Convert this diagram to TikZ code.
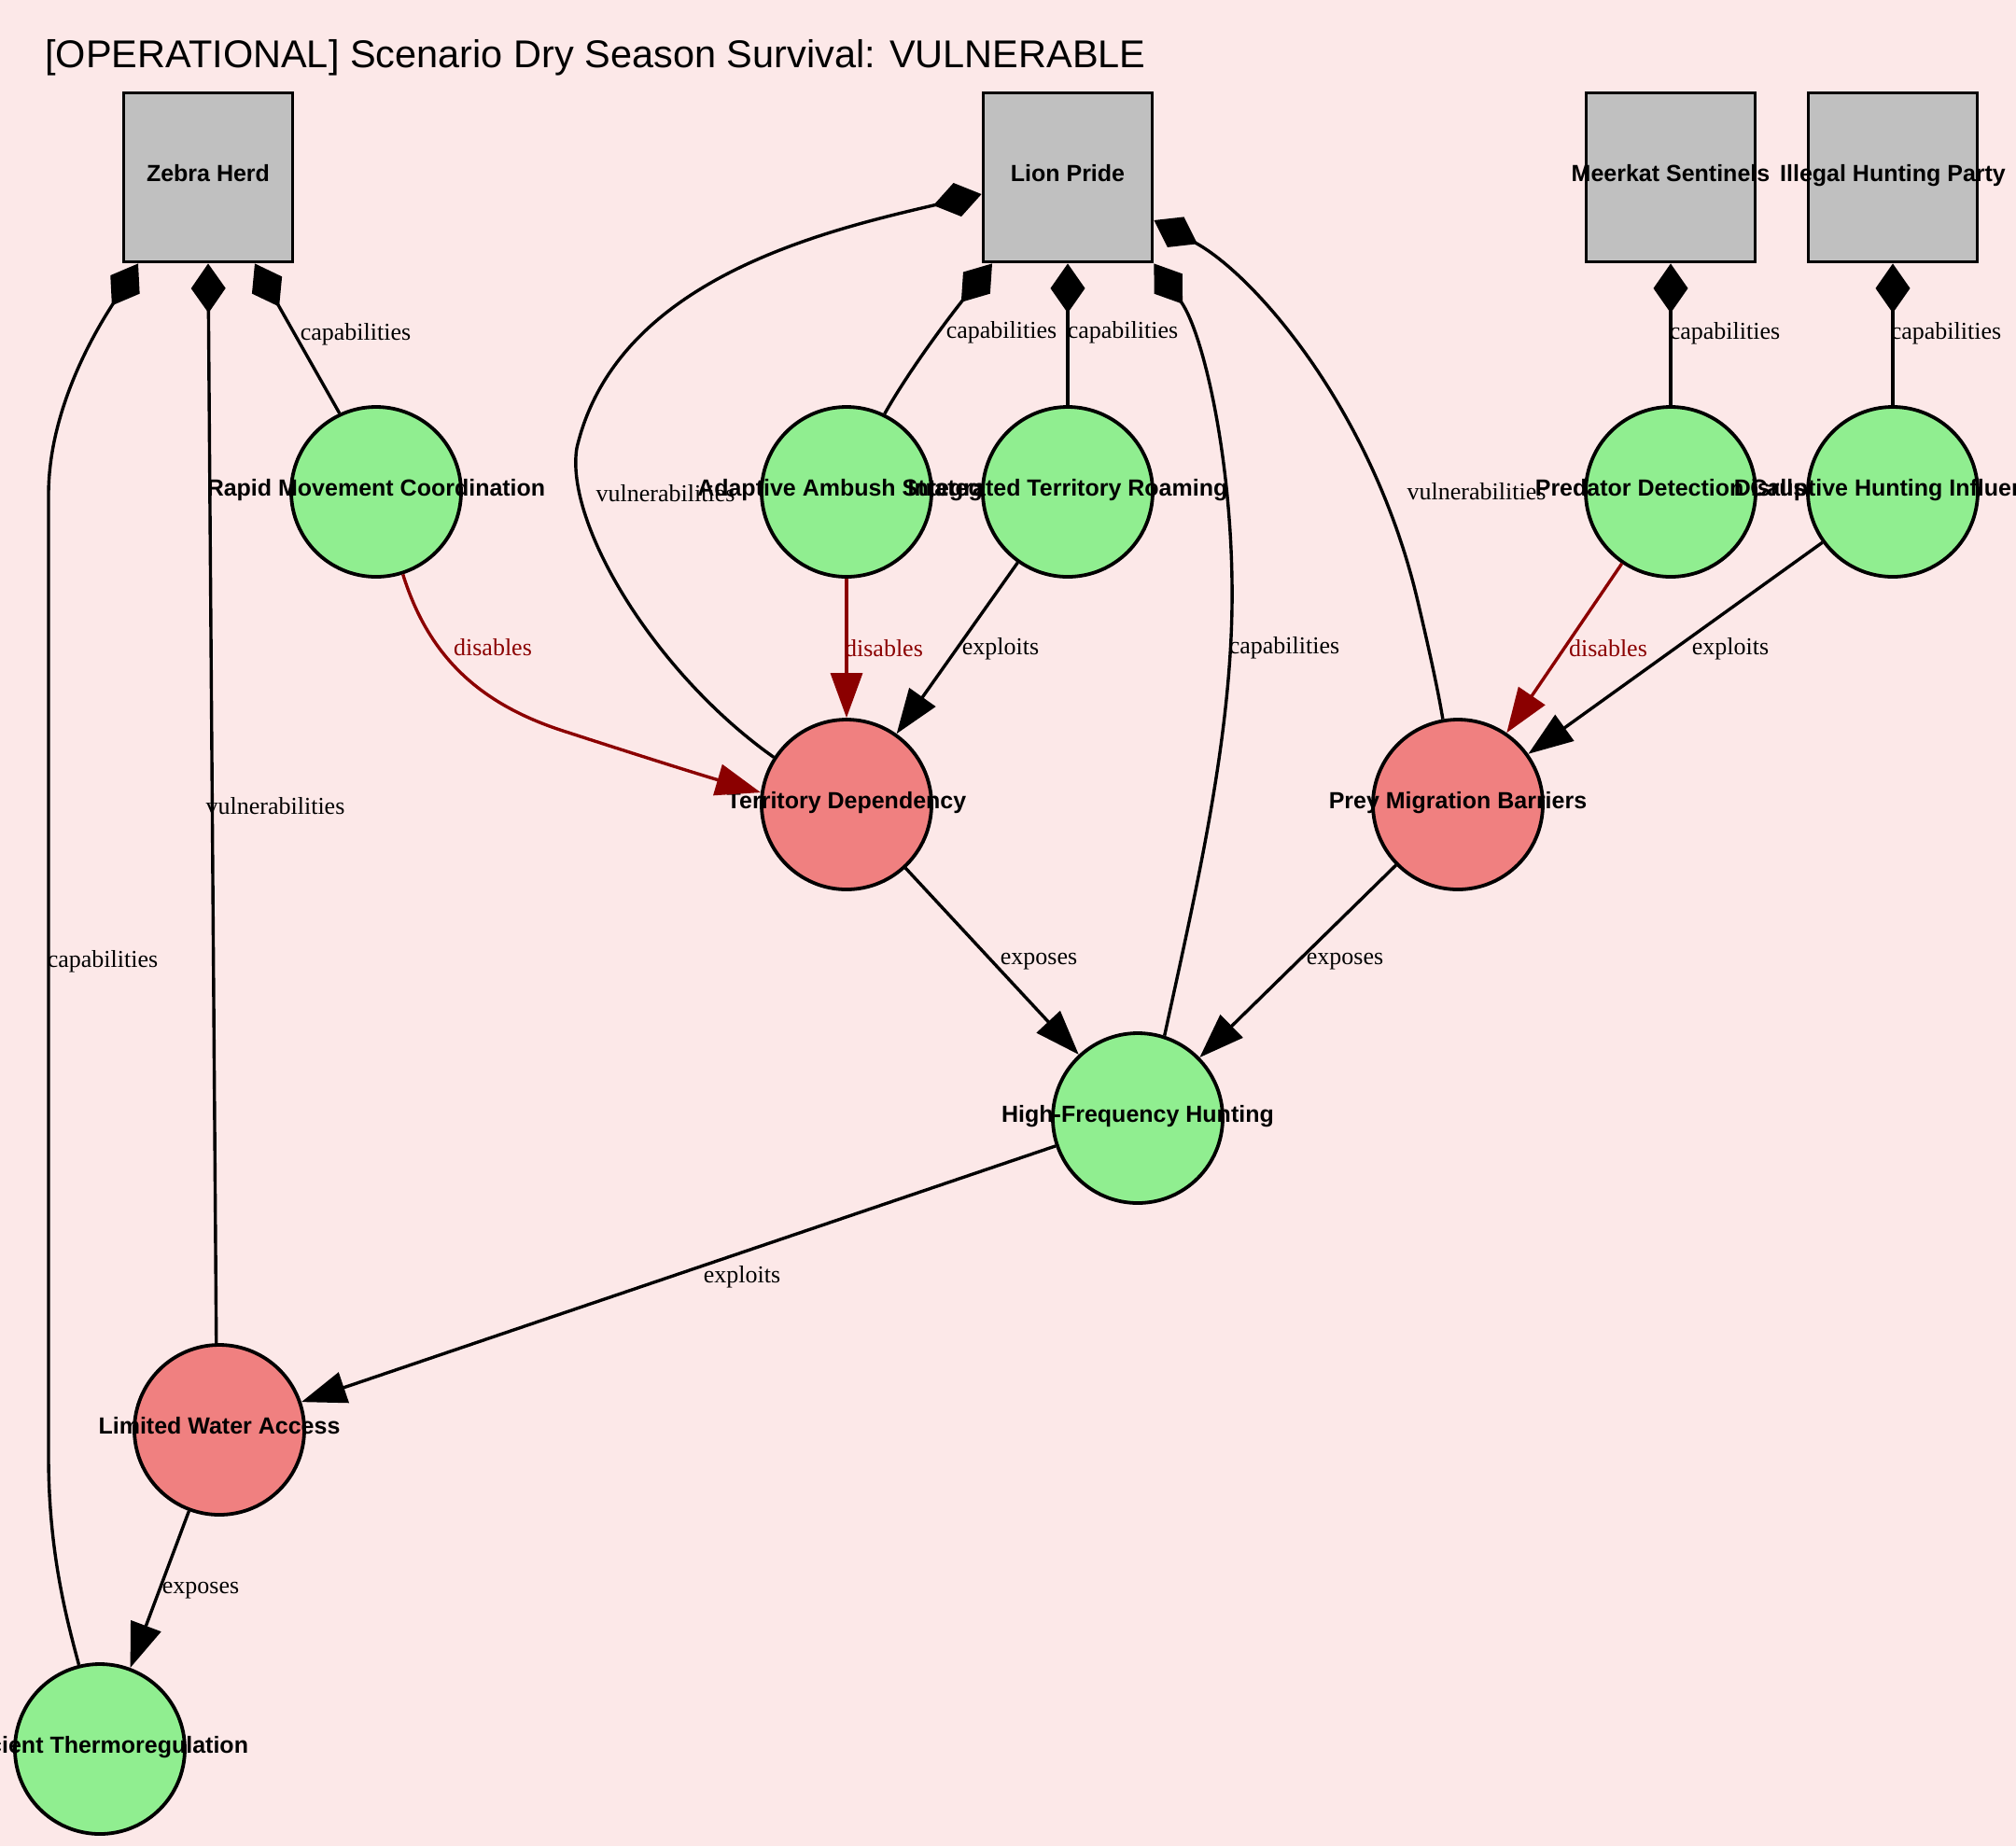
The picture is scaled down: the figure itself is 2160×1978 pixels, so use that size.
\documentclass[tikz,border=0pt]{standalone}
\usepackage{fontspec}
\setmainfont{Liberation Serif}
\setsansfont{Liberation Sans}
\usetikzlibrary{arrows.meta,calc}

\definecolor{bgpink}{HTML}{FCE8E8}
\definecolor{boxgray}{HTML}{C0C0C0}
\definecolor{capgreen}{HTML}{90EE90}
\definecolor{vulred}{HTML}{F08080}
\definecolor{cutred}{HTML}{8B0000}

\tikzset{
  heading/.style={anchor=base west, inner sep=0pt,
    font=\sffamily\fontsize{20.75pt}{24pt}\selectfont},
  entity/.style={draw=black, fill=boxgray, line width=1.9pt,
    minimum width=90.5pt, minimum height=90.5pt, inner sep=0pt},
  capnode/.style={circle, draw=black, fill=capgreen, line width=1.9pt,
    minimum size=91pt, inner sep=0pt},
  vulnode/.style={capnode, fill=vulred},
  nlab/.style={inner sep=0pt, text height=8.9pt, text depth=4pt,
    font=\sffamily\bfseries\fontsize{12.5pt}{14pt}\selectfont},
  elab/.style={inner sep=0pt, font=\fontsize{13pt}{15pt}\selectfont},
  redlab/.style={elab, text=cutred},
  link/.style={line width=1.7pt, draw=black},
  owns/.style={link, {Diamond[length=26.5pt,width=18.5pt]}-},
  hits/.style={link, -{Triangle[length=24pt,width=17pt]}},
  cuts/.style={hits, color=cutred},
}

\begin{document}
\begin{tikzpicture}[x=0.5pt,y=-0.5pt]
\useasboundingbox (0,0) rectangle (2160,1978);
\fill[bgpink] (0,0) rectangle (2160,1978);

\node[heading] (title) at (48,72) {[OPERATIONAL] Scenario Dry Season Survival: VULNERABLE};

% actors
\node[entity, label={[nlab]center:Zebra Herd}] (zebra) at (223,190) {};
\node[entity, label={[nlab]center:Lion Pride}] (lion) at (1144,190) {};
\node[entity, label={[nlab]center:Meerkat Sentinels}] (meerkat) at (1790,190) {};
\node[entity, label={[nlab]center:Illegal Hunting Party}] (hunters) at (2028,190) {};

% capabilities and vulnerabilities
\node[capnode, label={[nlab]center:Rapid Movement Coordination}] (rapid) at (403,527) {};
\node[capnode, label={[nlab]center:Adaptive Ambush Strategy}] (ambush) at (907,527) {};
\node[capnode, label={[nlab]center:Integrated Territory Roaming}] (roam) at (1144,527) {};
\node[capnode, label={[nlab]center:Predator Detection Calls}] (detect) at (1790,527) {};
\node[capnode, label={[nlab]center:Disruptive Hunting Influence}] (disrupt) at (2028,527) {};
\node[vulnode, label={[nlab]center:Territory Dependency}] (terr) at (907,862) {};
\node[vulnode, label={[nlab]center:Prey Migration Barriers}] (prey) at (1562,862) {};
\node[capnode, label={[nlab]center:High-Frequency Hunting}] (hfh) at (1219,1198) {};
\node[vulnode, label={[nlab]center:Limited Water Access}] (water) at (235,1532) {};
\node[capnode, label={[nlab]center:Efficient Thermoregulation}] (thermo) at (107,1874) {};

% ownership links
\draw[owns] ([xshift=25pt]zebra.south) -- (rapid.115);
\draw[owns] (zebra.south) -- (water.92);
\draw[owns] ([xshift=-37.5pt]zebra.south) .. controls (112,340) and (52,430) .. (52,530)
  -- (52,1560) .. controls (52,1660) and (70,1730) .. (thermo.104);
\draw[owns] ([yshift=-9pt]lion.west) .. controls (880,248) and (660,300) .. (618,480)
  .. controls (605,560) and (700,720) .. (terr.147);
\draw[owns] ([xshift=-40.5pt]lion.south) .. controls (1020,336) and (975,395) .. (ambush.64);
\draw[owns] (lion.south) -- (roam.north);
\draw[owns] (lion.south east) .. controls (1290,358) and (1322,500) .. (1320,650)
  .. controls (1318,800) and (1280,960) .. (hfh.72);
\draw[owns] ([yshift=-23pt]lion.east) .. controls (1345,295) and (1470,440) .. (1518,640)
  .. controls (1528,682) and (1540,735) .. (prey.100);
\draw[owns] (meerkat.south) -- (detect.north);
\draw[owns] (hunters.south) -- (disrupt.north);

% effects
\draw[cuts] (rapid.-72) .. controls (458,700) and (510,752) .. (600,782)
  .. controls (680,808) and (750,830) .. (terr.172);
\draw[cuts] (ambush.south) -- (terr.north);
\draw[hits] (roam) -- (terr);
\draw[cuts] (detect) -- (prey);
\draw[hits] (disrupt) -- (prey);
\draw[hits] (terr) -- (hfh);
\draw[hits] (prey) -- (hfh);
\draw[hits] (hfh) -- (water);
\draw[hits] (water) -- (thermo);

% link labels
\node[elab] (l1) at (381,358) {capabilities};
\node[elab] (l2) at (295,864) {vulnerabilities};
\node[elab] (l3) at (110,1030) {capabilities};
\node[elab] (l4) at (713,529) {vulnerabilities};
\node[elab] (l5) at (1073,356) {capabilities};
\node[elab] (l6) at (1203,356) {capabilities};
\node[elab] (l7) at (1376,694) {capabilities};
\node[elab] (l8) at (1582,527) {vulnerabilities};
\node[elab] (l9) at (1848,357) {capabilities};
\node[elab] (l10) at (2085,357) {capabilities};
\node[redlab] (l11) at (528,694) {disables};
\node[redlab] (l12) at (947,695) {disables};
\node[elab] (l13) at (1072,695) {exploits};
\node[redlab] (l14) at (1723,695) {disables};
\node[elab] (l15) at (1854,695) {exploits};
\node[elab] (l16) at (1113,1030) {exposes};
\node[elab] (l17) at (1441,1030) {exposes};
\node[elab] (l18) at (795,1368) {exploits};
\node[elab] (l19) at (215,1704) {exposes};
\end{tikzpicture}
\end{document}
